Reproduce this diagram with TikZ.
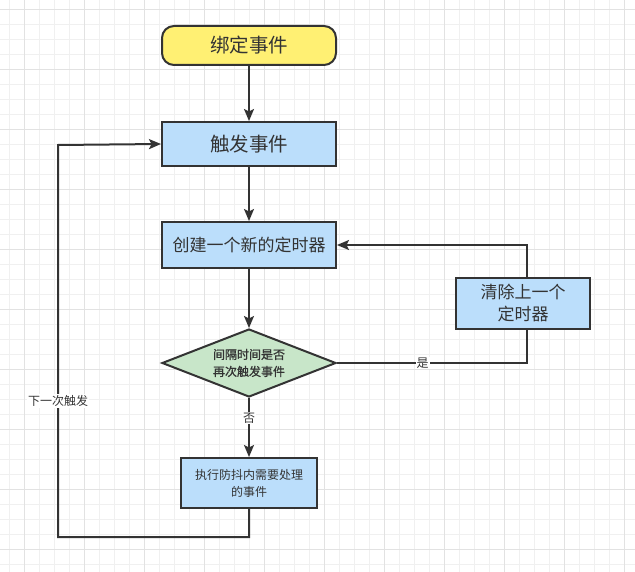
\documentclass[tikz,border=0pt]{standalone}
\usepackage{fontspec}
\newfontfamily\cjk{Noto Sans CJK SC}
\newfontfamily\cjkb[FakeBold=1]{Noto Sans CJK SC}
\usetikzlibrary{shapes.geometric,arrows.meta}
\definecolor{ink}{RGB}{51,51,51}
\definecolor{txt}{RGB}{51,51,51}
\definecolor{yel}{RGB}{255,240,115}
\definecolor{blu}{RGB}{187,222,251}
\definecolor{grn}{RGB}{200,230,201}
\definecolor{gmin}{RGB}{240,240,240}
\definecolor{gmaj}{RGB}{226,226,226}
\tikzset{
  box/.style={draw=ink, line width=2pt, fill=blu, inner sep=0pt, text=txt, align=center, font=\cjk\fontsize{17}{22}\selectfont},
  bigbox/.style={box, font=\cjk\fontsize{19.5}{22}\selectfont},
  smallbox/.style={box, font=\cjk\fontsize{12}{17}\selectfont},
  term/.style={bigbox, fill=yel, rounded corners=12pt},
  decision/.style={draw=ink, line width=2pt, fill=grn, diamond, aspect=2.56, inner sep=0pt, text=txt, align=center, minimum width=174pt, minimum height=68pt, font=\cjkb\fontsize{12}{17}\selectfont},
  conn/.style={draw=ink, line width=2pt},
  arr/.style={conn, -{Stealth[length=12pt,width=10pt,inset=2.5pt]}},
  lbl/.style={fill=white, inner sep=1pt, text=txt, font=\cjk\fontsize{12}{14}\selectfont}
}
\begin{document}
\begin{tikzpicture}[x=1pt,y=-1pt]
\useasboundingbox (0,0) rectangle (635,572);
\fill[white] (0,0) rectangle (635,572);
% grid
\foreach \i in {0,...,42} {
  \draw[gmin, line width=1pt] ({9.5+15*\i},0) -- ({9.5+15*\i},572);
}
\foreach \j in {0,...,38} {
  \draw[gmin, line width=1pt] (0,{9.5+15*\j}) -- (635,{9.5+15*\j});
}
\foreach \i in {0,...,10} {
  \draw[gmaj, line width=1pt] ({24.5+60*\i},0) -- ({24.5+60*\i},572);
}
\foreach \j in {0,...,9} {
  \draw[gmaj, line width=1pt] (0,{9.5+60*\j}) -- (635,{9.5+60*\j});
}
% nodes
\node[term, minimum width=174pt, minimum height=39pt] (bind) at (249,45.5) {绑定事件};
\node[bigbox, minimum width=174pt, minimum height=44pt] (trig) at (249,144) {触发事件};
\node[box, minimum width=174pt, minimum height=46pt] (create) at (249,245) {创建一个新的定时器};
\node[decision] (dec) at (249,363) {间隔时间是否\\再次触发事件};
\node[box, minimum width=134pt, minimum height=51pt] (clear) at (523,303.5) {清除上一个\\定时器};
\node[smallbox, minimum width=136pt, minimum height=50pt] (exec) at (249,483) {执行防抖内需要处理\\的事件};
% coordinates
\coordinate (cb) at (527,329);
\coordinate (ct) at (527,278);
\coordinate (cr) at (527,363);
\coordinate (ctop) at (527,245);
\coordinate (c1) at (249,537);
\coordinate (c2) at (58,537);
\coordinate (c3) at (58,145);
% connectors
\draw[arr] (bind) -- (trig);
\draw[arr] (trig) -- (create);
\draw[arr] (create) -- (dec);
\draw[conn] (dec.east) -- node[lbl, pos=0.45] {是} (cr) -- (cb);
\draw[arr] (ct) -- (ctop) -- (create.east);
\draw[arr] (dec.south) -- node[lbl, pos=0.34] {否} (exec.north);
\draw[arr] (exec.south) -- (c1) -- (c2) -- node[lbl, pos=0.347] {下一次触发} (c3) -- (trig.west);
\end{tikzpicture}
\end{document}
